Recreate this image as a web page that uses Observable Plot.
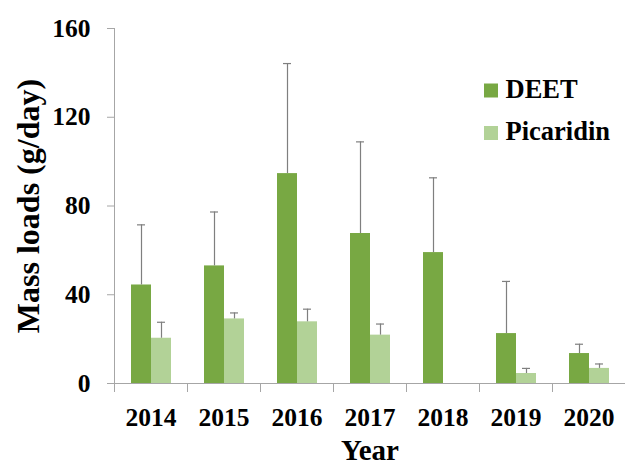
<!DOCTYPE html>
<html>
<head>
<meta charset="utf-8">
<script src="https://cdn.jsdelivr.net/npm/d3@7"></script>
<script src="https://cdn.jsdelivr.net/npm/@observablehq/plot@0.6"></script>
<style>
  html, body { margin: 0; padding: 0; background: #ffffff; }
</style>
</head>
<body>
<div id="chart"></div>
<script>
// Annual mass loads of two insect repellents (mean with upper standard deviation)
const years = ["2014", "2015", "2016", "2017", "2018", "2019", "2020"];
const series = ["DEET", "Picaridin"];
const deet = [44.4, 53.0, 94.6, 67.6, 59.0, 22.5, 13.5];
const deetSD = [27.1, 24.3, 49.6, 41.3, 33.7, 23.5, 4.2];
const picaridin = [20.4, 29.1, 27.8, 21.8, null, 4.5, 6.8];
const picaridinSD = [7.2, 2.7, 5.7, 5.0, null, 2.3, 2.0];
const yTicks = [0, 40, 80, 120, 160];
const colors = ["#78a843", "#b2d297"];

const axisGray = "#a6a6a6";
const errGray = "#7f7f7f";

const rows = years.flatMap((year, i) => [
  {year, series: "DEET", value: deet[i], sd: deetSD[i]},
  {year, series: "Picaridin", value: picaridin[i], sd: picaridinSD[i]}
]).filter(d => d.value != null);

const W = 625, H = 467, mL = 113, mR = 0, mT = 28, mB = 84;
const font = "'Liberation Serif', 'Times New Roman', serif";

const legend = series.flatMap((s, i) => [
  Plot.dot([s], {
    frameAnchor: "top-right", facetAnchor: "right",
    symbol: "square", r: 7.9, fill: d => d, stroke: null,
    dx: -134.5, dy: 62 + i * 42.5
  }),
  Plot.text([s], {
    frameAnchor: "top-right", facetAnchor: "right",
    text: d => d, textAnchor: "start", lineAnchor: "middle",
    fontFamily: font, fontSize: 26.5, fontWeight: "bold", fill: "black",
    dx: -120, dy: 61 + i * 42.5
  })
]);

const chart = Plot.plot({
  width: W, height: H,
  marginLeft: mL, marginRight: mR, marginTop: mT, marginBottom: mB,
  style: `font-family: ${font}; font-weight: bold; background: white; color: black;`,
  fx: {domain: years, padding: 0, label: null, axis: null},
  x: {domain: series, paddingInner: 0, paddingOuter: 0.78, axis: null},
  y: {domain: [0, 160], axis: null},
  color: {domain: series, range: colors},
  marks: [
    // vertical axis line, extended slightly below zero
    Plot.frame({anchor: "left", facetAnchor: "left", stroke: axisGray, insetBottom: -8}),
    // category separators below the baseline
    Plot.frame({anchor: "left", stroke: axisGray, insetTop: H - mT - mB, insetBottom: -8}),
    Plot.ruleY([0], {stroke: axisGray}),
    Plot.barY(rows, {fx: "year", x: "series", y: "value", fill: "series", inset: 0}),
    Plot.ruleX(rows, {fx: "year", x: "series", y1: "value", y2: d => d.value + d.sd, stroke: errGray, strokeWidth: 1.2}),
    Plot.tickY(rows, {fx: "year", x: "series", y: d => d.value + d.sd, stroke: errGray, strokeWidth: 1.2, insetLeft: 6, insetRight: 6}),
    Plot.axisY({ticks: yTicks, tickSize: 7, tickPadding: 17, fontFamily: font, fontSize: 25.5, fontWeight: "bold", stroke: axisGray, fill: "black", label: null}),
    Plot.axisFx({anchor: "bottom", tickSize: 0, tickPadding: 24, fontFamily: font, fontSize: 25.5, fontWeight: "bold", fill: "black", label: null}),
    Plot.text(["Mass loads (g/day)"], {
      frameAnchor: "left", facetAnchor: "left", rotate: -90,
      textAnchor: "middle", lineAnchor: "middle",
      fontFamily: font, fontSize: 32, fontWeight: "bold", fill: "black", dx: -86
    }),
    Plot.text(["Year"], {
      facet: "super", frameAnchor: "bottom",
      textAnchor: "middle", lineAnchor: "middle",
      fontFamily: font, fontSize: 29, fontWeight: "bold", fill: "black", dy: 67
    }),
    ...legend
  ]
});

document.getElementById("chart").appendChild(chart);
</script>
</body>
</html>
